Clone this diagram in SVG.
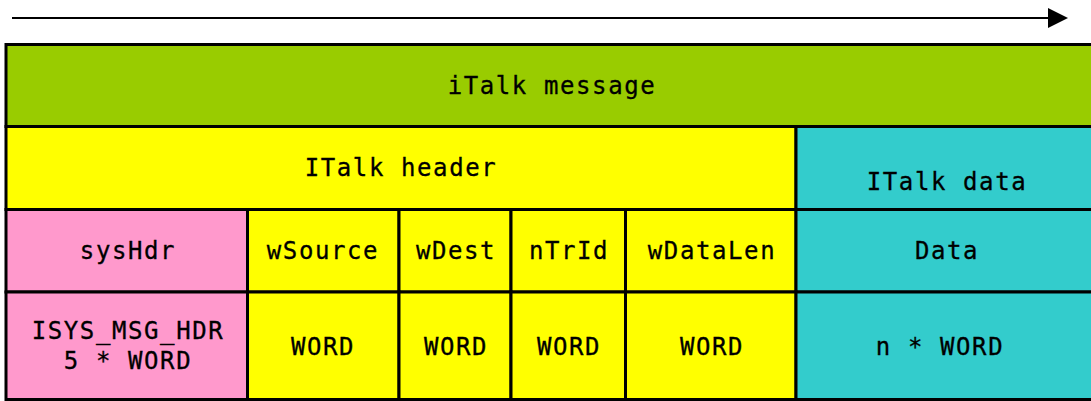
<svg xmlns="http://www.w3.org/2000/svg" width="1091" height="401" viewBox="0 0 1091 401">
<style>
.c{stroke:#000;stroke-width:3}
.t{font-family:"DejaVu Sans Mono","Liberation Mono",monospace;font-size:24px;letter-spacing:1.6px;text-anchor:middle;fill:#000;stroke:#000;stroke-width:0.3}
.g{fill:#99CC00}.y{fill:#FFFF00}.p{fill:#FF99CC}.b{fill:#33CCCC}
</style>
<defs>
<marker id="ah" markerUnits="userSpaceOnUse" markerWidth="20" markerHeight="20" refX="0" refY="10" orient="auto">
<path d="M0,0 L20,10 L0,20 Z" fill="#000"/>
</marker>
</defs>
<g id="connectors">
<line x1="12" y1="18" x2="1048" y2="18" stroke="#000" stroke-width="2" marker-end="url(#ah)"/>
</g>
<g id="italk-message"><rect class="c g" x="6" y="44.5" width="1091" height="82"/><text class="t" x="552" y="94">iTalk message</text></g>
<g id="italk-header"><rect class="c y" x="6" y="126.5" width="790" height="83"/><text class="t" x="401" y="176">ITalk header</text></g>
<g id="italk-data"><rect class="c b" x="796" y="126.5" width="301" height="83"/><text class="t" x="947" y="190">ITalk data</text></g>
<g id="sysHdr"><rect class="c p" x="6" y="209.5" width="241.5" height="82.5"/><text class="t" x="128" y="259">sysHdr</text></g>
<g id="wSource"><rect class="c y" x="247.5" y="209.5" width="151.5" height="82.5"/><text class="t" x="323" y="259">wSource</text></g>
<g id="wDest"><rect class="c y" x="399" y="209.5" width="112" height="82.5"/><text class="t" x="456" y="259">wDest</text></g>
<g id="nTrId"><rect class="c y" x="511" y="209.5" width="114.5" height="82.5"/><text class="t" x="569" y="259">nTrId</text></g>
<g id="wDataLen"><rect class="c y" x="625.5" y="209.5" width="170.5" height="82.5"/><text class="t" x="712" y="259">wDataLen</text></g>
<g id="data"><rect class="c b" x="796" y="209.5" width="301" height="82.5"/><text class="t" x="947" y="259">Data</text></g>
<g id="sysHdr-type"><rect class="c p" x="6" y="292" width="241.5" height="107.5"/><text class="t" x="128" y="339">ISYS_MSG_HDR</text><text class="t" x="128" y="369">5 * WORD</text></g>
<g id="wSource-type"><rect class="c y" x="247.5" y="292" width="151.5" height="107.5"/><text class="t" x="323" y="355">WORD</text></g>
<g id="wDest-type"><rect class="c y" x="399" y="292" width="112" height="107.5"/><text class="t" x="456" y="355">WORD</text></g>
<g id="nTrId-type"><rect class="c y" x="511" y="292" width="114.5" height="107.5"/><text class="t" x="569" y="355">WORD</text></g>
<g id="wDataLen-type"><rect class="c y" x="625.5" y="292" width="170.5" height="107.5"/><text class="t" x="712" y="355">WORD</text></g>
<g id="data-type"><rect class="c b" x="796" y="292" width="301" height="107.5"/><text class="t" x="940" y="355">n * WORD</text></g>
</svg>
